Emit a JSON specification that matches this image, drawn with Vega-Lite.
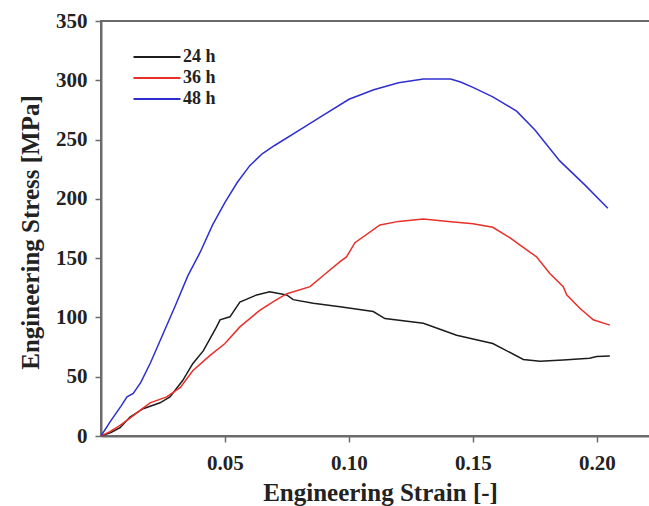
{
  "$schema": "https://vega.github.io/schema/vega-lite/v6.json",
  "autosize": "none",
  "padding": {"left": 101, "top": 21, "right": 0, "bottom": 70},
  "width": 550,
  "height": 415,
  "background": "white",
  "config": {
    "view": {"stroke": "#6b6b6b", "strokeWidth": 2},
    "font": "Liberation Serif"
  },
  "datasets": {
    "curves": [
      {"series": "24 h", "strain": 0, "stress": 0},
      {"series": "24 h", "strain": 0.004, "stress": 3},
      {"series": "24 h", "strain": 0.0077, "stress": 7},
      {"series": "24 h", "strain": 0.0117, "stress": 16},
      {"series": "24 h", "strain": 0.017, "stress": 23},
      {"series": "24 h", "strain": 0.0238, "stress": 28},
      {"series": "24 h", "strain": 0.0278, "stress": 33},
      {"series": "24 h", "strain": 0.033, "stress": 47},
      {"series": "24 h", "strain": 0.037, "stress": 61},
      {"series": "24 h", "strain": 0.0413, "stress": 72},
      {"series": "24 h", "strain": 0.0466, "stress": 92},
      {"series": "24 h", "strain": 0.048, "stress": 98},
      {"series": "24 h", "strain": 0.052, "stress": 100.5},
      {"series": "24 h", "strain": 0.056, "stress": 113},
      {"series": "24 h", "strain": 0.0628, "stress": 119},
      {"series": "24 h", "strain": 0.068, "stress": 121.6},
      {"series": "24 h", "strain": 0.0749, "stress": 119},
      {"series": "24 h", "strain": 0.0775, "stress": 115},
      {"series": "24 h", "strain": 0.0856, "stress": 112},
      {"series": "24 h", "strain": 0.0964, "stress": 109},
      {"series": "24 h", "strain": 0.1098, "stress": 105},
      {"series": "24 h", "strain": 0.1145, "stress": 99},
      {"series": "24 h", "strain": 0.13, "stress": 95},
      {"series": "24 h", "strain": 0.1434, "stress": 85},
      {"series": "24 h", "strain": 0.158, "stress": 78},
      {"series": "24 h", "strain": 0.1703, "stress": 64.6},
      {"series": "24 h", "strain": 0.177, "stress": 63},
      {"series": "24 h", "strain": 0.1864, "stress": 64},
      {"series": "24 h", "strain": 0.197, "stress": 65.6},
      {"series": "24 h", "strain": 0.1999, "stress": 67},
      {"series": "24 h", "strain": 0.2052, "stress": 67.4},
      {"series": "36 h", "strain": 0, "stress": 0},
      {"series": "36 h", "strain": 0.0036, "stress": 3.6},
      {"series": "36 h", "strain": 0.0077, "stress": 9},
      {"series": "36 h", "strain": 0.0117, "stress": 15},
      {"series": "36 h", "strain": 0.016, "stress": 22},
      {"series": "36 h", "strain": 0.0198, "stress": 28},
      {"series": "36 h", "strain": 0.0265, "stress": 33},
      {"series": "36 h", "strain": 0.032, "stress": 41},
      {"series": "36 h", "strain": 0.037, "stress": 55},
      {"series": "36 h", "strain": 0.044, "stress": 68},
      {"series": "36 h", "strain": 0.05, "stress": 78},
      {"series": "36 h", "strain": 0.056, "stress": 92},
      {"series": "36 h", "strain": 0.064, "stress": 106},
      {"series": "36 h", "strain": 0.07, "stress": 114},
      {"series": "36 h", "strain": 0.075, "stress": 120},
      {"series": "36 h", "strain": 0.0843, "stress": 126},
      {"series": "36 h", "strain": 0.09, "stress": 136},
      {"series": "36 h", "strain": 0.0964, "stress": 147},
      {"series": "36 h", "strain": 0.099, "stress": 151},
      {"series": "36 h", "strain": 0.1024, "stress": 163},
      {"series": "36 h", "strain": 0.1125, "stress": 178},
      {"series": "36 h", "strain": 0.12, "stress": 181},
      {"series": "36 h", "strain": 0.13, "stress": 183},
      {"series": "36 h", "strain": 0.14, "stress": 181},
      {"series": "36 h", "strain": 0.15, "stress": 179},
      {"series": "36 h", "strain": 0.158, "stress": 176},
      {"series": "36 h", "strain": 0.165, "stress": 167},
      {"series": "36 h", "strain": 0.169, "stress": 161},
      {"series": "36 h", "strain": 0.1757, "stress": 151},
      {"series": "36 h", "strain": 0.181, "stress": 137},
      {"series": "36 h", "strain": 0.1864, "stress": 126},
      {"series": "36 h", "strain": 0.1878, "stress": 119},
      {"series": "36 h", "strain": 0.193, "stress": 108},
      {"series": "36 h", "strain": 0.1985, "stress": 98},
      {"series": "36 h", "strain": 0.2052, "stress": 93.5},
      {"series": "48 h", "strain": 0, "stress": 0},
      {"series": "48 h", "strain": 0.004, "stress": 13},
      {"series": "48 h", "strain": 0.008, "stress": 25},
      {"series": "48 h", "strain": 0.0105, "stress": 33},
      {"series": "48 h", "strain": 0.013, "stress": 36},
      {"series": "48 h", "strain": 0.016, "stress": 45},
      {"series": "48 h", "strain": 0.02, "stress": 62},
      {"series": "48 h", "strain": 0.025, "stress": 86},
      {"series": "48 h", "strain": 0.03, "stress": 110},
      {"series": "48 h", "strain": 0.035, "stress": 135},
      {"series": "48 h", "strain": 0.04, "stress": 155},
      {"series": "48 h", "strain": 0.045, "stress": 178},
      {"series": "48 h", "strain": 0.05, "stress": 197},
      {"series": "48 h", "strain": 0.055, "stress": 214},
      {"series": "48 h", "strain": 0.06, "stress": 228},
      {"series": "48 h", "strain": 0.065, "stress": 238},
      {"series": "48 h", "strain": 0.07, "stress": 245},
      {"series": "48 h", "strain": 0.08, "stress": 258},
      {"series": "48 h", "strain": 0.09, "stress": 271},
      {"series": "48 h", "strain": 0.1, "stress": 284},
      {"series": "48 h", "strain": 0.11, "stress": 292},
      {"series": "48 h", "strain": 0.12, "stress": 298},
      {"series": "48 h", "strain": 0.13, "stress": 301},
      {"series": "48 h", "strain": 0.141, "stress": 301},
      {"series": "48 h", "strain": 0.145, "stress": 298.5},
      {"series": "48 h", "strain": 0.15, "stress": 294},
      {"series": "48 h", "strain": 0.158, "stress": 286},
      {"series": "48 h", "strain": 0.1676, "stress": 274},
      {"series": "48 h", "strain": 0.175, "stress": 258},
      {"series": "48 h", "strain": 0.185, "stress": 232},
      {"series": "48 h", "strain": 0.195, "stress": 212},
      {"series": "48 h", "strain": 0.2044, "stress": 192}
    ]
  },
  "data": {"name": "curves"},
  "mark": {"type": "line", "strokeWidth": 1.5, "clip": true},
  "encoding": {
    "x": {
      "field": "strain",
      "type": "quantitative",
      "scale": {"domain": [0, 0.2218], "nice": false, "zero": false},
      "axis": {
        "values": [0.05, 0.1, 0.15, 0.2],
        "format": ".2f",
        "grid": false,
        "domainColor": "#6b6b6b",
        "domainWidth": 2,
        "tickColor": "#6b6b6b",
        "tickWidth": 1.5,
        "tickSize": 6,
        "labelFont": "Liberation Serif",
        "labelFontWeight": "bold",
        "labelFontSize": 21,
        "labelColor": "#222222",
        "labelPadding": 10,
        "title": "Engineering Strain [-]",
        "titleFont": "Liberation Serif",
        "titleFontWeight": "bold",
        "titleFontSize": 25,
        "titleColor": "#222222",
        "titleBaseline": "alphabetic",
        "titleY": 64,
        "titleX": 279
      }
    },
    "y": {
      "field": "stress",
      "type": "quantitative",
      "scale": {"domain": [0, 350], "nice": false},
      "axis": {
        "values": [0, 50, 100, 150, 200, 250, 300, 350],
        "grid": false,
        "domainColor": "#6b6b6b",
        "domainWidth": 2,
        "tickColor": "#6b6b6b",
        "tickWidth": 1.5,
        "tickSize": 6,
        "labelFont": "Liberation Serif",
        "labelFontWeight": "bold",
        "labelFontSize": 21,
        "labelColor": "#222222",
        "labelPadding": 8,
        "title": "Engineering Stress [MPa]",
        "titleFont": "Liberation Serif",
        "titleFontWeight": "bold",
        "titleFontSize": 25,
        "titleColor": "#222222",
        "titleBaseline": "alphabetic",
        "titleX": -63,
        "titleY": 211
      }
    },
    "color": {
      "field": "series",
      "type": "nominal",
      "scale": {"domain": ["24 h", "36 h", "48 h"], "range": ["#1c1c1c", "#e8302a", "#2f2fd0"]},
      "legend": {
        "title": null,
        "orient": "none",
        "legendX": 47,
        "legendY": 27,
        "symbolType": "M-4,0H4",
        "symbolSize": 138,
        "symbolStrokeWidth": 2,
        "labelOffset": 17,
        "rowPadding": 3,
        "labelFont": "Liberation Serif",
        "labelFontWeight": "bold",
        "labelFontSize": 18,
        "labelColor": "#222222"
      }
    }
  }
}
